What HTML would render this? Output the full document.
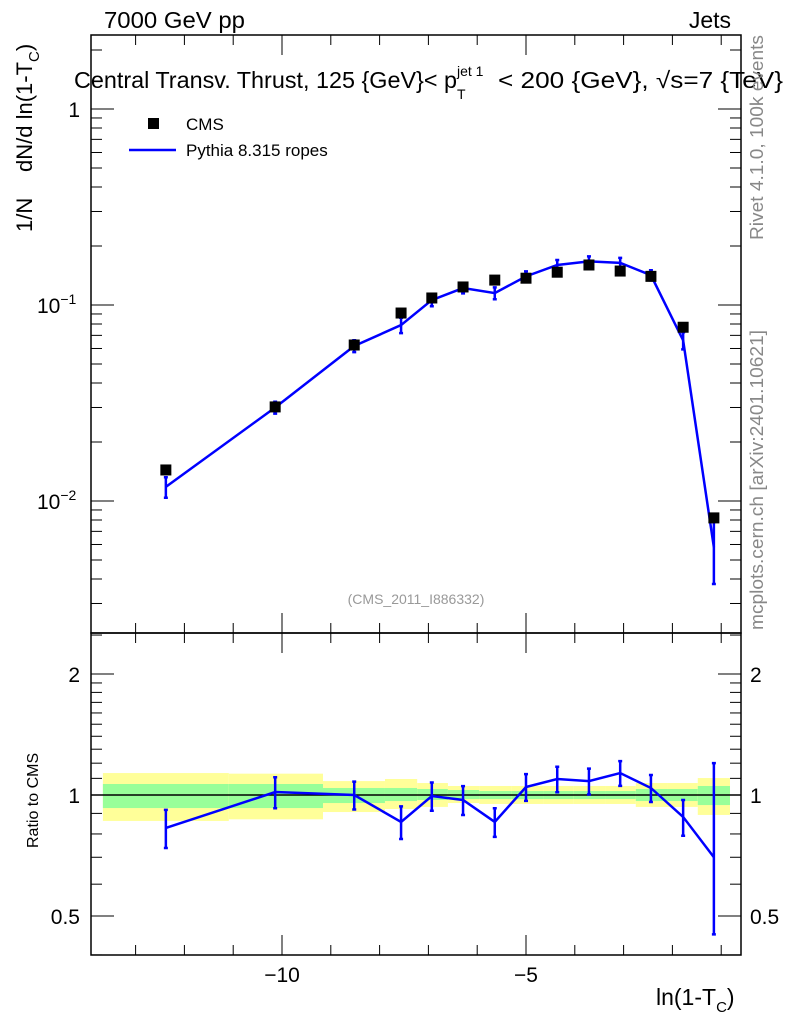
<!DOCTYPE html>
<html><head><meta charset="utf-8"><style>
html,body{margin:0;padding:0;background:#fff;}
svg{display:block;font-family:"Liberation Sans",sans-serif;}
</style></head><body>
<svg id="c" width="786" height="1024" viewBox="0 0 786 1024" xmlns="http://www.w3.org/2000/svg">
<g id="bands"></g><g id="grid"></g><g id="marks"></g><g id="txt"></g>
</svg>
<script>
const xVals=[-12.38,-10.14,-8.52,-7.56,-6.93,-6.29,-5.64,-5.0,-4.36,-3.71,-3.07,-2.44,-1.78,-1.15];
const cmsVals=[0.0144,0.0302,0.0625,0.091,0.1086,0.1236,0.134,0.137,0.147,0.160,0.149,0.140,0.077,0.0082];
const mcVals=[0.0118,0.0300,0.0618,0.079,0.106,0.122,0.115,0.140,0.160,0.167,0.164,0.142,0.066,0.0058];
const mcRelErr=[0.12,0.07,0.07,0.09,0.07,0.06,0.07,0.06,0.06,0.06,0.06,0.06,0.10,0.35];
const ratioVals=[0.828,1.017,1.0,0.857,0.994,0.972,0.857,1.047,1.096,1.083,1.134,1.041,0.882,0.70];
const ratioErrHi=[0.09,0.09,0.08,0.08,0.08,0.08,0.07,0.08,0.08,0.08,0.08,0.08,0.09,0.50];
const ratioErrLo=[0.09,0.09,0.08,0.08,0.08,0.08,0.07,0.08,0.08,0.08,0.08,0.08,0.09,0.25];
const binEdges=[-13.67,-11.09,-9.16,-7.89,-7.23,-6.60,-5.96,-5.29,-4.65,-4.02,-3.38,-2.75,-2.11,-1.48,-0.82];
const yelHi=[1.134,1.13,1.083,1.096,1.071,1.053,1.053,1.053,1.053,1.053,1.053,1.071,1.071,1.102];
const yelLo=[0.862,0.87,0.907,0.923,0.934,0.955,0.95,0.95,0.95,0.95,0.95,0.934,0.934,0.892];
const grnHi=[1.065,1.065,1.041,1.041,1.035,1.029,1.023,1.023,1.023,1.023,1.023,1.035,1.035,1.053];
const grnLo=[0.928,0.928,0.955,0.966,0.972,0.977,0.977,0.977,0.977,0.977,0.977,0.966,0.966,0.944];
const xTicks=[-10,-5];
const xTickLabels=["\u221210","\u22125"];

const NS="http://www.w3.org/2000/svg";
const L=91,R=741,T=35,MB=633,RB=955;
const X=v=>770+48.8*v;
const Y=v=>109-196*Math.log10(v);
const YR=v=>795-121*Math.log2(v);
function el(par,tag,at,txt){const e=document.createElementNS(NS,tag);for(const k in at)e.setAttribute(k,at[k]);if(txt!==undefined)e.textContent=txt;document.getElementById(par).appendChild(e);return e;}

for(let i=0;i<binEdges.length-1;i++){
 const x1=X(binEdges[i]),x2=X(binEdges[i+1]);
 let e=el('bands','rect',{x:x1,y:YR(yelHi[i]),width:x2-x1,height:YR(yelLo[i])-YR(yelHi[i]),fill:'#ffff99'});
 
 
 e=el('bands','rect',{x:x1,y:YR(grnHi[i]),width:x2-x1,height:YR(grnLo[i])-YR(grnHi[i]),fill:'#99ff99'});
 
 
}
let f=el('grid','rect',{x:L,y:T,width:R-L,height:MB-T,fill:'none',stroke:'#000','stroke-width':1.5});

f=el('grid','rect',{x:L,y:MB,width:R-L,height:RB-MB,fill:'none',stroke:'#000','stroke-width':1.5});

el('grid','line',{x1:L,x2:R,y1:YR(1),y2:YR(1),stroke:'#000','stroke-width':1.5});
for(let v=-13;v<=-1;v++){
 const x=X(v),maj=(v%5===0),len=maj?20:10;
 for(const [yt,yb] of [[T,MB],[MB,RB]]){
  el('grid','line',{x1:x,x2:x,y1:yt,y2:yt+len,stroke:'#000','stroke-width':1});
  el('grid','line',{x1:x,x2:x,y1:yb,y2:yb-len,stroke:'#000','stroke-width':1});
 }
}
xTicks.forEach((v,i)=>{const t=el('txt','text',{x:X(v),y:982,'font-size':21,'text-anchor':'middle'},xTickLabels[i]);
 });
for(let d=-3;d<=0;d++)for(let m=1;m<=9;m++){
 const v=m*Math.pow(10,d),y=Y(v);if(y<T||y>MB)continue;const len=m===1?23:11;
 el('grid','line',{x1:L,x2:L+len,y1:y,y2:y,stroke:'#000'});
 el('grid','line',{x1:R,x2:R-len,y1:y,y2:y,stroke:'#000'});
}
[0.4,0.5,0.6,0.7,0.8,0.9,1,1.1,1.2,1.3,1.4,1.5,1.6,1.7,1.8,1.9,2,2.5].forEach(v=>{
 const y=YR(v);if(y<MB||y>RB)return;const len=(v===0.5||v===1||v===2)?23:11;
 el('grid','line',{x1:L,x2:L+len,y1:y,y2:y,stroke:'#000'});
 el('grid','line',{x1:R,x2:R-len,y1:y,y2:y,stroke:'#000'});
});
let t=el('txt','text',{x:80,y:Y(1)+8,'font-size':21,'text-anchor':'end'},'1');

[[-1,Y(0.1)],[-2,Y(0.01)]].forEach(([e,y])=>{
 const tt=el('txt','text',{x:37,y:y+8,'font-size':21});tt.innerHTML='10<tspan dy="-9" font-size="14">\u2212'+(-e)+'</tspan>';
 
});
[['2',2],['1',1],['0.5',0.5]].forEach(([s,v])=>{
 let a=el('txt','text',{x:80,y:YR(v)+8,'font-size':21,'text-anchor':'end'},s);
 
 a=el('txt','text',{x:750,y:YR(v)+8,'font-size':21},s);
 
});
let pts=xVals.map((x,i)=>X(x)+','+Y(mcVals[i])).join(' ');
let p=el('marks','polyline',{points:pts,fill:'none',stroke:'#0000ff','stroke-width':2.5});

xVals.forEach((x,i)=>{
 const v=mcVals[i],e=v*mcRelErr[i],px=X(x),y1=Y(v+e),y2=Y(v-e);
 const g=el('marks','path',{d:`M${px},${y1}V${y2}M${px-2},${y1}h4M${px-2},${y2}h4`,stroke:'#0000ff','stroke-width':2.5,fill:'none'});
 
});
xVals.forEach((x,i)=>{
 const r=el('marks','rect',{x:X(x)-5.5,y:Y(cmsVals[i])-5.5,width:11,height:11,fill:'#000'});
 
});
pts=xVals.map((x,i)=>X(x)+','+YR(ratioVals[i])).join(' ');
p=el('marks','polyline',{points:pts,fill:'none',stroke:'#0000ff','stroke-width':2.5});

xVals.forEach((x,i)=>{
 const v=ratioVals[i],px=X(x),y1=YR(v+ratioErrHi[i]),y2=YR(v-ratioErrLo[i]);
 const g=el('marks','path',{d:`M${px},${y1}V${y2}M${px-2},${y1}h4M${px-2},${y2}h4`,stroke:'#0000ff','stroke-width':2.5,fill:'none'});
 
});
</script>
<svg style="position:absolute;left:0;top:0" width="786" height="1024" xmlns="http://www.w3.org/2000/svg" font-family="Liberation Sans, sans-serif">
<text x="104" y="28" font-size="23" textLength="141" lengthAdjust="spacingAndGlyphs">7000 GeV pp</text>
<text x="731" y="28" font-size="23" text-anchor="end">Jets</text>
<text x="74" y="88" font-size="23"><tspan textLength="383" lengthAdjust="spacingAndGlyphs">Central Transv. Thrust, 125 {GeV}&lt; p</tspan><tspan x="457" y="76" font-size="14">jet 1</tspan><tspan x="457" y="99" font-size="14">T</tspan><tspan x="498" y="88" textLength="285" lengthAdjust="spacingAndGlyphs">&lt; 200 {GeV}, √s=7 {TeV}</tspan></text>
<rect x="148" y="118" width="11" height="11" fill="#000"/>
<text x="186" y="130" font-size="17">CMS</text>
<line x1="129" x2="176" y1="150" y2="150" stroke="#0000ff" stroke-width="2.5"/>
<text x="186" y="156" font-size="17">Pythia 8.315 ropes</text>
<text x="416" y="604" font-size="14" fill="#999" text-anchor="middle">(CMS_2011_I886332)</text>
<text transform="translate(763,240) rotate(-90)" font-size="18" fill="#888" textLength="205" lengthAdjust="spacingAndGlyphs">Rivet 4.1.0,  100k events</text>
<text transform="translate(763,630) rotate(-90)" font-size="18" fill="#888" textLength="300" lengthAdjust="spacingAndGlyphs">mcplots.cern.ch [arXiv:2401.10621]</text>
<text transform="translate(32,232) rotate(-90)" font-size="22"><tspan x="0">1/N</tspan><tspan x="60">dN/d ln(1-T</tspan><tspan dy="7" font-size="15">C</tspan><tspan dy="-7">)</tspan></text>
<text transform="translate(38,848) rotate(-90)" font-size="16">Ratio to CMS</text>
<text x="656" y="1005" font-size="23">ln(1-T<tspan dy="7" font-size="15">C</tspan><tspan dy="-7">)</tspan></text>
</svg>
</body></html>
